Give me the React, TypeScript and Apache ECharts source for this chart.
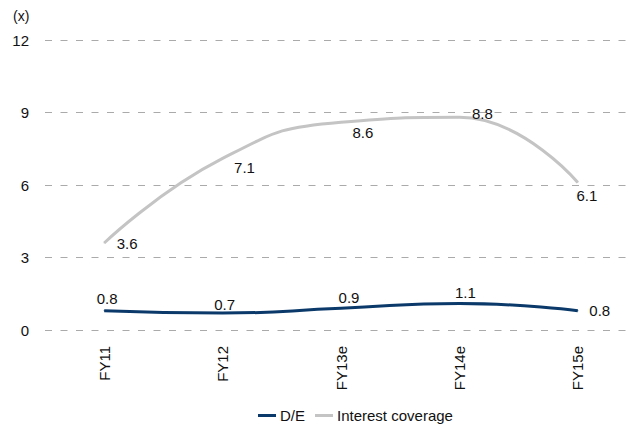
import React, { useEffect, useRef } from "react";
import * as echarts from "echarts";

const categories = ["FY11", "FY12", "FY13e", "FY14e", "FY15e"];
const deValues = [0.8, 0.7, 0.9, 1.1, 0.8];
const icValues = [3.6, 7.1, 8.6, 8.8, 6.1];
const yTicks = [0, 3, 6, 9, 12];

const FONT = "Liberation Sans, Arial, sans-serif";

export default function App() {
  const ref = useRef<HTMLDivElement>(null);
  useEffect(() => {
    if (!ref.current) return;
    const chart = echarts.init(ref.current, undefined, { renderer: "svg" });
    const icLabelPos: any[] = [
      { position: "right", offset: [7, 0] },
      { position: "right", offset: [6, 9] },
      { position: "right", offset: [6, 10] },
      { position: "right", offset: [7, -4] },
      { position: "bottom", offset: [9, 0] },
    ];
    const deLabelPos: any[] = [
      { position: "top", offset: [3, 1] },
      { position: "top", offset: [2, 4] },
      { position: "top", offset: [8, 2] },
      { position: "top", offset: [6, 2] },
      { position: "right", offset: [6, 0] },
    ];
    const labelStyle = { color: "#111", fontSize: 15, fontFamily: FONT, distance: 5 };
    chart.setOption({
      animation: false,
      textStyle: { fontFamily: FONT },
      graphic: [
        {
          type: "text",
          left: 13,
          top: 9,
          style: { text: "(x)", fontSize: 14, fontFamily: FONT, fill: "#111" },
        },
      ],
      grid: {
        left: 45,
        width: 592,
        top: 40,
        height: 290,
        containLabel: false,
        outerBoundsMode: "none",
      },
      legend: {
        left: 253,
        top: 403,
        itemWidth: 18,
        itemHeight: 3,
        itemGap: 10,
        textStyle: { fontSize: 15, fontFamily: FONT, color: "#111", padding: [0, 0, 0, -1] },
        data: [
          { name: "D/E", icon: "rect" },
          { name: "Interest coverage", icon: "rect" },
        ],
      },
      xAxis: {
        type: "category",
        data: categories,
        boundaryGap: true,
        axisLine: { show: false },
        axisTick: { show: false },
        axisLabel: { rotate: 90, margin: 16, fontSize: 15, color: "#111", fontFamily: FONT },
      },
      yAxis: {
        type: "value",
        min: yTicks[0],
        max: yTicks[yTicks.length - 1],
        interval: 3,
        axisLine: { show: false },
        axisTick: { show: false },
        axisLabel: { margin: 16, fontSize: 15, color: "#111", fontFamily: FONT },
        splitLine: { lineStyle: { color: "#aaaaaa", width: 1, type: [7, 8.5] } },
      },
      series: [
        {
          name: "D/E",
          type: "line",
          data: deValues.map((v, i) => ({ value: v, label: deLabelPos[i] })),
          smooth: 0.5,
          symbol: "circle",
          symbolSize: 1,
          showSymbol: true,
          lineStyle: { color: "#0b3a6a", width: 3 },
          itemStyle: { color: "#0b3a6a" },
          label: { show: true, ...labelStyle },
          z: 3,
        },
        {
          name: "Interest coverage",
          type: "line",
          data: icValues.map((v, i) => ({ value: v, label: icLabelPos[i] })),
          smooth: 0.5,
          symbol: "circle",
          symbolSize: 1,
          showSymbol: true,
          lineStyle: { color: "#c4c4c4", width: 3 },
          itemStyle: { color: "#c4c4c4" },
          label: { show: true, ...labelStyle },
          z: 2,
        },
      ],
    });
    return () => chart.dispose();
  }, []);
  return (
    <div
      ref={ref}
      style={{ position: "fixed", left: 0, top: 0, width: 633, height: 428, background: "#fff" }}
    />
  );
}
